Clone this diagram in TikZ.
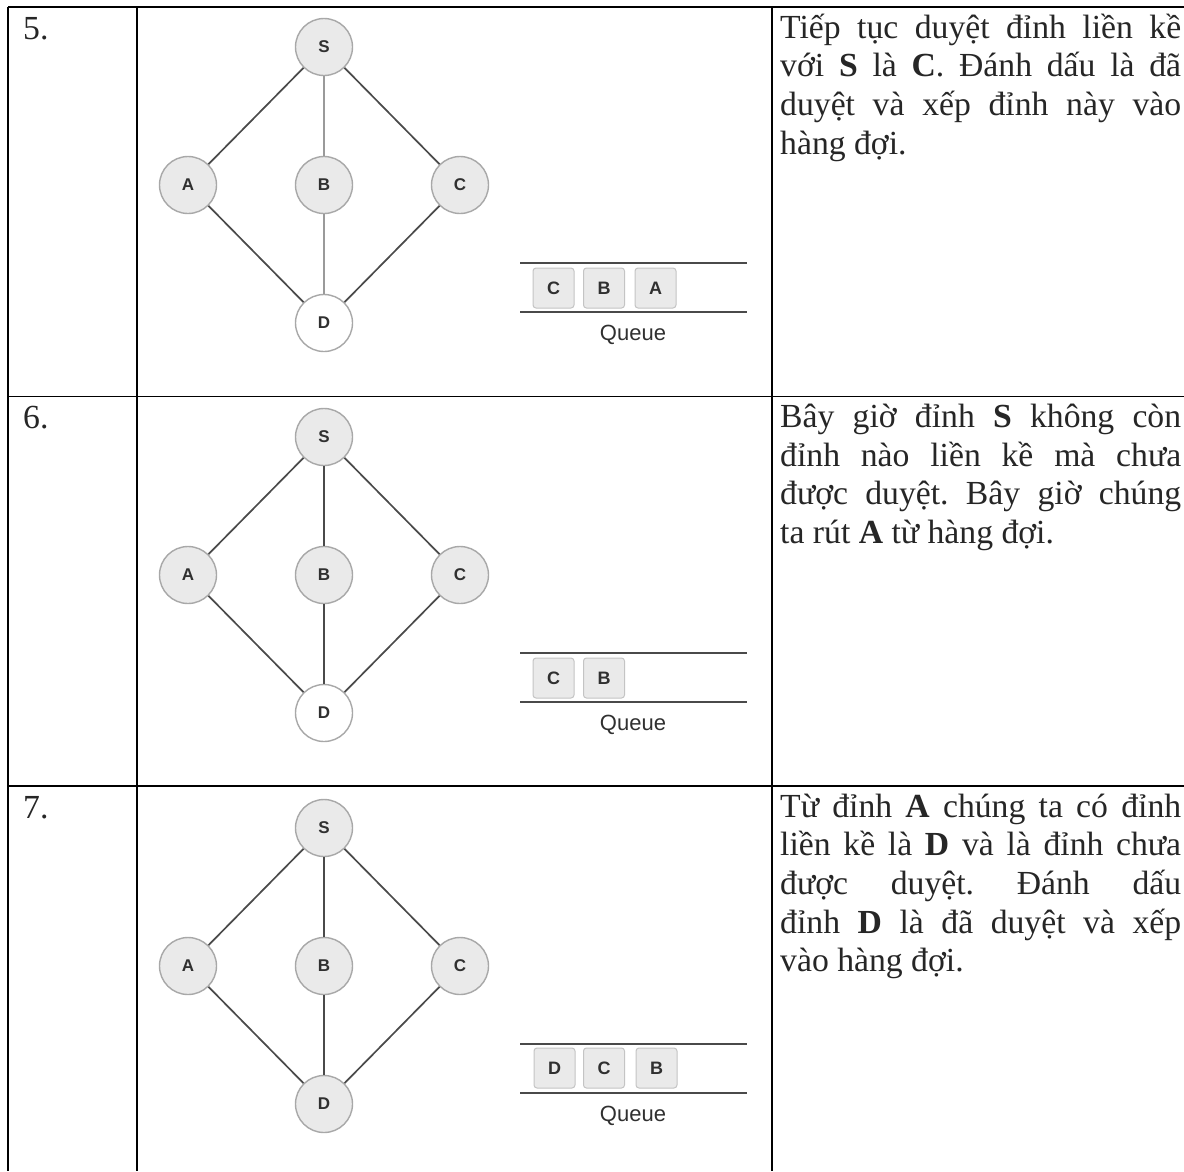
\documentclass[tikz,border=0pt]{standalone}
\usepackage{fontspec}
\setmainfont{Liberation Serif}
\newfontfamily\labelfont{Liberation Sans}
\frenchspacing
\definecolor{vertexfill}{HTML}{EAEAEA}
\definecolor{vertexline}{HTML}{A8A8A8}
\definecolor{edgedark}{HTML}{4A4A4A}
\definecolor{edgesoft}{HTML}{9A9A9A}
\definecolor{cellline}{HTML}{C4C4C4}
\definecolor{labeltext}{HTML}{303030}
\definecolor{bodytext}{HTML}{262626}

% one BFS snapshot: #1 suffix, #2 vertical offset, #3 style of D, #4 style of S-B-D edges
\newcommand{\bfsgraph}[4]{%
  \node[vertex] (s#1) at (324,{47+#2}) {S};
  \node[vertex] (a#1) at (188,{185+#2}) {A};
  \node[vertex] (b#1) at (324,{185+#2}) {B};
  \node[vertex] (c#1) at (460,{185+#2}) {C};
  \node[#3] (d#1) at (324,{323+#2}) {D};
  \draw[edge] (s#1) -- (a#1);
  \draw[edge] (s#1) -- (c#1);
  \draw[edge] (a#1) -- (d#1);
  \draw[edge] (c#1) -- (d#1);
  \draw[#4] (s#1) -- (b#1);
  \draw[#4] (b#1) -- (d#1);
  \coordinate (qtl#1) at (520,{263+#2});
  \coordinate (qtr#1) at (747,{263+#2});
  \coordinate (qbl#1) at (520,{312+#2});
  \coordinate (qbr#1) at (747,{312+#2});
  \draw[qrail] (qtl#1) -- (qtr#1);
  \draw[qrail] (qbl#1) -- (qbr#1);
  \node[qname] (qn#1) at (633,{335+#2}) {Queue};
}

\begin{document}
\begin{tikzpicture}[x=1pt,y=-1pt,
  vertex/.style={circle, draw=vertexline, fill=vertexfill, line width=1.4pt,
    minimum size=57pt, inner sep=0pt,
    font=\labelfont\bfseries\fontsize{17}{17}\selectfont, text=labeltext},
  fresh/.style={vertex, fill=white},
  edge/.style={draw=edgedark, line width=1.7pt},
  softedge/.style={draw=edgesoft, line width=2.8pt},
  qcell/.style={rounded corners=3pt, draw=cellline, fill=vertexfill, line width=1pt,
    minimum width=41pt, minimum height=40pt, inner sep=0pt,
    font=\labelfont\bfseries\fontsize{18}{18}\selectfont, text=labeltext},
  qrail/.style={draw=edgedark, line width=1.8pt},
  qname/.style={inner sep=0pt, font=\labelfont\fontsize{22}{22}\selectfont, text=labeltext},
  rule/.style={draw=black, line width=1.8pt},
  body/.style={anchor=base west, inner sep=0pt,
    font=\fontsize{33.7}{38.7}\selectfont, text=bodytext},
  numlabel/.style={anchor=base west, inner sep=0pt,
    font=\fontsize{33.7}{38.7}\selectfont, text=bodytext}
]
\useasboundingbox (0,0) rectangle (1184,1171);
\fill[white] (0,0) rectangle (1184,1171);

% table rules
\coordinate (tl) at (8,7);
\coordinate (tr) at (1184,7);
\coordinate (bl) at (8,1171);
\coordinate (c1t) at (137,7);
\coordinate (c1b) at (137,1171);
\coordinate (c2t) at (772,7);
\coordinate (c2b) at (772,1171);
\coordinate (r1l) at (8,396.5);
\coordinate (r1r) at (1184,396.5);
\coordinate (r2l) at (8,786);
\coordinate (r2r) at (1184,786);
\draw[rule] (tl) -- (tr);
\draw[rule] (r1l) -- (r1r);
\draw[rule] (r2l) -- (r2r);
\draw[rule] (tl) -- (bl);
\draw[rule] (c1t) -- (c1b);
\draw[rule] (c2t) -- (c2b);

% step 5
\bfsgraph{5}{0}{fresh}{softedge}
\node[qcell] (q5c) at (553.5,288) {C};
\node[qcell] (q5b) at (604,288) {B};
\node[qcell] (q5a) at (655.5,288) {A};
\node[numlabel] (n5) at (23,39) {5.};
\node[body] (t5a) at (780,38) {\makebox[401pt][s]{Tiếp tục duyệt đỉnh liền kề}};
\node[body] (t5b) at (780,76.7) {\makebox[401pt][s]{với \textbf{S} là \textbf{C}. Đánh dấu là đã}};
\node[body] (t5c) at (780,115.4) {\makebox[401pt][s]{duyệt và xếp đỉnh này vào}};
\node[body] (t5d) at (780,154.1) {hàng đợi.};

% step 6
\bfsgraph{6}{390}{fresh}{edge}
\node[qcell] (q6c) at (553.5,678) {C};
\node[qcell] (q6b) at (604,678) {B};
\node[numlabel] (n6) at (23,428.5) {6.};
\node[body] (t6a) at (780,427.5) {\makebox[401pt][s]{Bây giờ đỉnh \textbf{S} không còn}};
\node[body] (t6b) at (780,466.2) {\makebox[401pt][s]{đỉnh nào liền kề mà chưa}};
\node[body] (t6c) at (780,504.9) {\makebox[401pt][s]{được duyệt. Bây giờ chúng}};
\node[body] (t6d) at (780,543.6) {ta rút \textbf{A} từ hàng đợi.};

% step 7
\bfsgraph{7}{781}{vertex}{edge}
\node[qcell] (q7d) at (554.5,1068) {D};
\node[qcell] (q7c) at (604,1068) {C};
\node[qcell] (q7b) at (656.5,1068) {B};
\node[numlabel] (n7) at (23,818) {7.};
\node[body] (t7a) at (780,817) {\makebox[401pt][s]{Từ đỉnh \textbf{A} chúng ta có đỉnh}};
\node[body] (t7b) at (780,855.7) {\makebox[401pt][s]{liền kề là \textbf{D} và là đỉnh chưa}};
\node[body] (t7c) at (780,894.4) {\makebox[401pt][s]{được duyệt. Đánh dấu}};
\node[body] (t7d) at (780,933.1) {\makebox[401pt][s]{đỉnh \textbf{D} là đã duyệt và xếp}};
\node[body] (t7e) at (780,971.8) {vào hàng đợi.};
\end{tikzpicture}
\end{document}
